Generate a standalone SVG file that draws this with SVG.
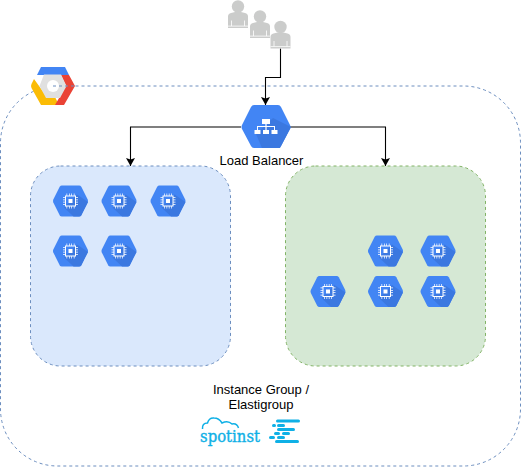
<svg xmlns="http://www.w3.org/2000/svg" width="521" height="467" viewBox="0 0 521 467">
<style>
.t{font-family:"Liberation Sans",Arial,sans-serif;font-size:13px;fill:#000;text-anchor:middle}
.c{fill:none;stroke:#000;stroke-width:1.100}
.zone{stroke-width:1;stroke-dasharray:3 3}
.u{fill:#cbcccb}
.b{fill:#0fb0e6}
</style>
<defs>
<marker id="a" markerUnits="userSpaceOnUse" markerWidth="10" markerHeight="10" refX="8" refY="4.500" orient="auto"><path d="M0 0L8 4.500L0 9L1.600 4.500Z" fill="#000"/></marker>
<g id="hex">
<path d="M-8.600-15.500H8.600Q10-15.500 10.800-14.200L17.200-1.400Q17.800 0 17.200 1.400L10.800 14.200Q10 15.500 8.600 15.500H-8.600Q-10 15.500-10.800 14.200L-17.200 1.400Q-17.800 0-17.200-1.400L-10.800-14.200Q-10-15.500-8.600-15.500Z" fill="#4285f4"/>
<path d="M6.500-6.500L17.500 1L10.800 14.200Q10 15.500 8.600 15.500H3L-6.500 6.500Z" fill="#3b78e0"/>
<path d="M-5.500-5.500H5.500V5.500H-5.500ZM-4.500-4.500V4.500H4.500V-4.500ZM-2-2H2V2H-2ZM-4-7.500H-3.300V-5.500H-4ZM-1.500-7.500H-.8V-5.500H-1.500ZM.8-7.500H1.500V-5.500H.8ZM3.300-7.500H4V-5.500H3.300ZM-4 5.500H-3.300V7.500H-4ZM-1.500 5.500H-.8V7.500H-1.500ZM.8 5.500H1.500V7.500H.8ZM3.300 5.500H4V7.500H3.300ZM-7.500-4H-5.500V-3.300H-7.500ZM-7.500-1.500H-5.500V-.8H-7.500ZM-7.500 .8H-5.500V1.500H-7.500ZM-7.500 3.300H-5.500V4H-7.500ZM5.500-4H7.500V-3.300H5.500ZM5.500-1.500H7.500V-.8H5.500ZM5.500 .8H7.500V1.500H5.500ZM5.500 3.300H7.500V4H5.500Z" fill="#fff" fill-rule="evenodd"/>
</g>
<g id="user">
<circle cx="0" cy="-11" r="6.200" class="u"/>
<path d="M-10 10.500V-1Q-10-4-7-4.600L-3-5.500H3L7-4.600Q10-4 10-1V10.500Z" class="u"/>
<path d="M-10 8.600H10M-6.500 3V8.600M6.500 3V8.600" stroke="#fff" stroke-width=".8" fill="none"/>
</g>
</defs>

<g id="zone-outer"><rect x="0.500" y="86" width="520" height="380" rx="57" fill="#fff" stroke="#6c8ebf" class="zone"/></g>
<g id="group-blue"><rect x="30.500" y="166" width="200" height="200" rx="30" fill="#dae8fc" stroke="#6c8ebf" class="zone"/></g>
<g id="group-green"><rect x="285.500" y="166" width="200" height="200" rx="30" fill="#d5e8d4" stroke="#82b366" class="zone"/></g>

<g id="connectors">
<path class="c" d="M280.500 48.500V77.500H265.500V105" marker-end="url(#a)"/>
<path class="c" d="M241 127H130.500V166" marker-end="url(#a)"/>
<path class="c" d="M290 127H385.500V166" marker-end="url(#a)"/>
</g>

<g id="users">
<use href="#user" x="238" y="17.500"/>
<use href="#user" x="260" y="27.500"/>
<use href="#user" x="280.500" y="38"/>
</g>

<g id="gcp-logo">
<path d="M41 67H65L69 75H37Z" fill="#4285f4"/>
<path d="M34 79L31.500 84Q30.500 86 31.500 88L41 105H59L55 97H47Z" fill="#fbbc05"/>
<path d="M61 75H69L75 86L64 105H55L66 86Z" fill="#ea4335"/>
<path d="M44 74.500H61L66.500 86L60 98H46L39.500 86Z" fill="#e0e0e0"/>
<circle cx="53" cy="86" r="6" fill="#fff"/>
<path d="M53 86H75" stroke="#6c8ebf" stroke-dasharray="3 3" fill="none"/>
</g>

<g id="load-balancer">
<path d="M254 105H278Q280 105 281 107L290 125Q291 127 290 129L281 146Q280 148 278 148H254Q252 148 251 146L242 129Q241 127 242 125L251 107Q252 105 254 105Z" fill="#4285f4"/>
<path d="M273 118L291 127L280 148H262L256 134Z" fill="#3b78e0"/>
<path d="M262 119H270V124H266.600V126H275V130H277.500V134H271.500V130H274V127H266.600V130H269V134H263V130H265.400V127H258V130H260.500V134H254.500V130H257V126H265.400V124H262Z" fill="#fff"/>
<text class="t" x="261.500" y="165">Load Balancer</text>
</g>

<g id="vm-1"><use href="#hex" x="70.500" y="201"/></g>
<g id="vm-2"><use href="#hex" x="119" y="201"/></g>
<g id="vm-3"><use href="#hex" x="168" y="201"/></g>
<g id="vm-4"><use href="#hex" x="70.500" y="251"/></g>
<g id="vm-5"><use href="#hex" x="119" y="251"/></g>
<g id="vm-6"><use href="#hex" x="385.500" y="251"/></g>
<g id="vm-7"><use href="#hex" x="438" y="251"/></g>
<g id="vm-8"><use href="#hex" x="328" y="291.500"/></g>
<g id="vm-9"><use href="#hex" x="385.500" y="291.500"/></g>
<g id="vm-10"><use href="#hex" x="438" y="291.500"/></g>

<g id="instance-group-label">
<text class="t" x="261" y="394">Instance Group /</text>
<text class="t" x="261" y="409">Elastigroup</text>
</g>

<g id="spotinst-logo">
<path d="M202.500 429Q202 423 207.500 423Q209 417.500 214 418Q219 418 222 423Q228 420 232 424Q237 423 238.500 428" fill="none" stroke="#0fb0e6" stroke-width="1.500"/>
<text x="200" y="442" font-family="'DejaVu Serif',serif" font-size="17" fill="#0fb0e6" stroke="#0fb0e6" stroke-width=".4" textLength="60" lengthAdjust="spacingAndGlyphs">spotinst</text>
<rect class="b" x="276" y="419.500" width="24" height="3" rx="1.500"/>
<rect class="b" x="272" y="424" width="4" height="3" rx="1.500"/>
<rect class="b" x="277" y="424" width="8" height="3" rx="1.500"/>
<rect class="b" x="277" y="428" width="18" height="3" rx="1.500"/>
<rect class="b" x="274" y="432" width="6" height="3" rx="1.500"/>
<rect class="b" x="282" y="432" width="8" height="3" rx="1.500"/>
<rect class="b" x="269" y="436" width="6" height="3" rx="1.500"/>
<rect class="b" x="277" y="436" width="8" height="3" rx="1.500"/>
<rect class="b" x="275" y="440" width="24" height="3" rx="1.500"/>
</g>
</svg>
